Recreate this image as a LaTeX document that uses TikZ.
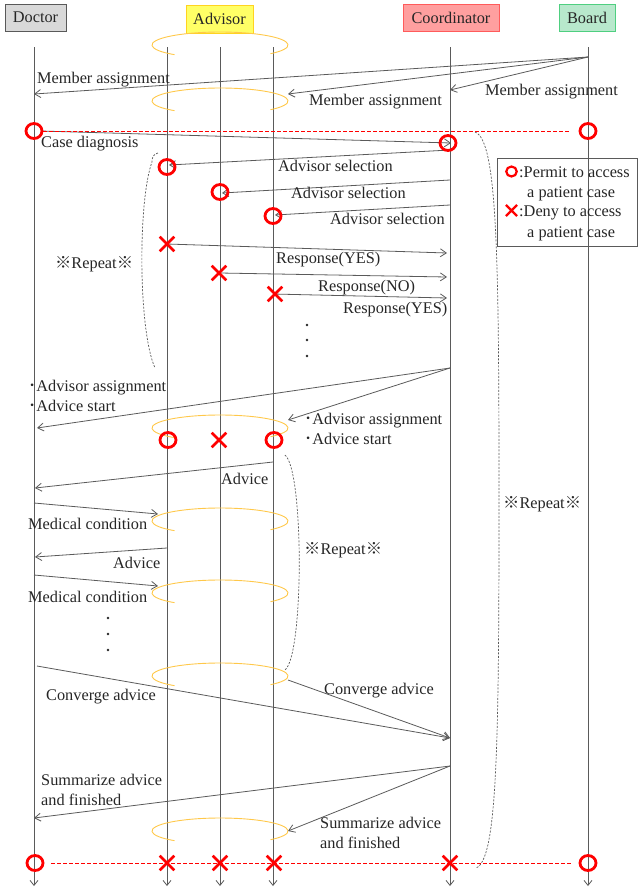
\documentclass[tikz,border=0pt]{standalone}
\usepackage{fontspec}
\setmainfont{Liberation Serif}
\newfontfamily\cjk{Noto Sans CJK JP}
\usetikzlibrary{calc,shapes.geometric,shapes.misc,arrows.meta}

\definecolor{docfill}{HTML}{D9D9D9}
\definecolor{docline}{HTML}{595959}
\definecolor{advfill}{HTML}{FFFF66}
\definecolor{advline}{HTML}{FFD320}
\definecolor{coofill}{HTML}{FF9F9F}
\definecolor{cooline}{HTML}{FF5B5B}
\definecolor{brdfill}{HTML}{B8E8CC}
\definecolor{brdline}{HTML}{4FCF80}
\definecolor{ringcol}{HTML}{FFC84A}
\definecolor{linegray}{HTML}{5A5A5A}
\definecolor{markred}{HTML}{FF0000}

\tikzset{
  head/.style={draw, line width=0.8pt, inner sep=0pt, minimum height=27pt,
    font=\fontsize{16.3}{19}\selectfont, text=black!85},
  lifeline/.style={draw=linegray, line width=0.8pt, -{Straight Barb[length=5pt,width=8pt]}},
  msg/.style={draw=linegray, line width=0.8pt, -{Straight Barb[length=6pt,width=8pt]}},
  lbl/.style={inner sep=0pt, anchor=base west, font=\fontsize{16.3}{20}\selectfont, text=black!85},
  ring/.style={draw=ringcol, line width=0.9pt},
  permit/.style={ellipse, draw=markred, line width=2.8pt, minimum width=16pt, minimum height=15pt, inner sep=0pt},
  deny/.style={cross out, draw=markred, line width=2.6pt, minimum size=12pt, inner sep=0pt},
  accessline/.style={draw=markred, line width=1pt, dash pattern=on 4pt off 2pt},
  repeatbrace/.style={draw=linegray, line width=0.7pt, dash pattern=on 2pt off 1.5pt},
}

\begin{document}
\begin{tikzpicture}[x=1pt,y=-1pt]
    \useasboundingbox (0,0) rectangle (639,887);

    % actors
    \node[head, fill=docfill, draw=docline, minimum width=61pt] (doctor) at (35.5,17.5) {Doctor};
    \node[head, fill=advfill, draw=advline, minimum width=67pt, minimum height=28pt] (advisor) at (219.5,19) {Advisor};
    \node[head, fill=coofill, draw=cooline, minimum width=96pt] (coordinator) at (451,17.5) {Coordinator};
    \node[head, fill=brdfill, draw=brdline, minimum width=56pt] (board) at (587,17.5) {Board};

    \coordinate (doc) at (34,0);
    \coordinate (a1) at (167,0);
    \coordinate (a2) at (220,0);
    \coordinate (a3) at (273,0);
    \coordinate (coo) at (450,0);
    \coordinate (brd) at (588,0);
    \coordinate (ring) at (288,0);

    % lifelines
    \draw[lifeline] ($(doc)+(0,47)$) -- ($(doc)+(0,886)$);
    \draw[lifeline] ($(a1)+(0,47)$) -- ($(a1)+(0,886)$);
    \draw[lifeline] ($(a2)+(0,47)$) -- ($(a2)+(0,886)$);
    \draw[lifeline] ($(a3)+(0,47)$) -- ($(a3)+(0,886)$);
    \draw[lifeline] ($(coo)+(0,47)$) -- ($(coo)+(0,886)$);
    \draw[lifeline] ($(brd)+(0,47)$) -- ($(brd)+(0,886)$);

    % advisor group rings
    \coordinate (r1) at (220,45);
    \coordinate (r2) at (220,101);
    \coordinate (r3) at (220,428);
    \coordinate (r4) at (220,521);
    \coordinate (r5) at (220,593);
    \coordinate (r6) at (220,676);
    \coordinate (r7) at (220,831);
    \draw[ring] (r1) ++(-42:68pt and 13pt) arc[start angle=-42, end angle=228, x radius=68pt, y radius=13pt];
    \draw[ring] (r2) ++(-42:68pt and 13pt) arc[start angle=-42, end angle=228, x radius=68pt, y radius=13pt];
    \draw[ring] (r3) ++(-42:68pt and 13pt) arc[start angle=-42, end angle=228, x radius=68pt, y radius=13pt];
    \draw[ring] (r4) ++(-42:68pt and 13pt) arc[start angle=-42, end angle=228, x radius=68pt, y radius=13pt];
    \draw[ring] (r5) ++(-42:68pt and 13pt) arc[start angle=-42, end angle=228, x radius=68pt, y radius=13pt];
    \draw[ring] (r6) ++(-42:68pt and 13pt) arc[start angle=-42, end angle=228, x radius=68pt, y radius=13pt];
    \draw[ring] (r7) ++(-42:68pt and 13pt) arc[start angle=-42, end angle=228, x radius=68pt, y radius=13pt];

    % messages
    \draw[msg] ($(brd)+(0,57)$) -- ($(doc)+(0,94)$);
    \draw[msg] ($(brd)+(0,57)$) -- ($(ring)+(0,94)$);
    \draw[msg] ($(brd)+(0,57)$) -- ($(coo)+(0,90)$);
    \draw[msg] ($(doc)+(7,131)$) -- ($(coo)+(1,143)$);
    \draw[msg] ($(coo)+(0,150)$) -- ($(a1)+(2,165)$);
    \draw[msg] ($(coo)+(0,180)$) -- ($(a2)+(2,193)$);
    \draw[msg] ($(coo)+(0,205)$) -- ($(a3)+(2,215)$);
    \draw[msg] ($(a1)+(0,244)$) -- ($(coo)+(-3,253)$);
    \draw[msg] ($(a2)+(0,273)$) -- ($(coo)+(-3,277)$);
    \draw[msg] ($(a3)+(0,294)$) -- ($(coo)+(-3,298)$);
    \draw[msg] ($(coo)+(0,368)$) -- ($(doc)+(3,428)$);
    \draw[msg] ($(coo)+(0,368)$) -- ($(ring)+(0,420)$);
    \draw[msg] ($(a3)+(0,462)$) -- ($(doc)+(1,488)$);
    \draw[msg] ($(doc)+(0,503)$) -- ($(a1)+(-9,514)$);
    \draw[msg] ($(a1)+(0,548)$) -- ($(doc)+(1,557)$);
    \draw[msg] ($(doc)+(0,575)$) -- ($(a1)+(-9,586)$);
    \draw[msg] ($(doc)+(3,666)$) -- ($(coo)+(0,738)$);
    \draw[msg] ($(ring)+(0,680)$) -- ($(coo)+(0,738)$);
    \draw[msg] ($(coo)+(0,766)$) -- ($(doc)+(0,818)$);
    \draw[msg] ($(coo)+(0,766)$) -- ($(ring)+(0,831)$);

    % repeat brackets
    \draw[repeatbrace] (158,153) .. controls (153,154) and (152,158) .. (152,162)
        .. controls (138,200) and (138,330) .. (155,368);
    \draw[repeatbrace] (475,132) .. controls (497,140) and (499,250) .. (499,500) .. controls (499,750) and (497,860) .. (476,868);
    \draw[repeatbrace] (285,455) .. controls (304,470) and (304,655) .. (285,670);

    % access marks
    \node[permit] (p-doc1) at (34,131) {};
    \node[permit] (p-brd1) at (588,131) {};
    \node[permit] (p-coo) at (448,143) {};
    \node[permit] (p-a1) at (167,167) {};
    \node[permit] (p-a2) at (220,192) {};
    \node[permit] (p-a3) at (273,216) {};
    \node[deny] (d-a1) at (167,244) {};
    \node[deny] (d-a2) at (219,273) {};
    \node[deny] (d-a3) at (275,294) {};
    \node[permit] (p-a1b) at (168,440) {};
    \node[deny] (d-a2b) at (219,440) {};
    \node[permit] (p-a3b) at (274,440) {};
    \node[permit] (p-doc2) at (35,863) {};
    \node[deny] (d-a1c) at (167,863) {};
    \node[deny] (d-a2c) at (220,863) {};
    \node[deny] (d-a3c) at (274,863) {};
    \node[deny] (d-coo) at (450,863) {};
    \node[permit] (p-brd2) at (588,863) {};
    \draw[accessline] (p-doc1.east) -- ($(p-brd1.west)+(-8,0)$);
    \draw[accessline] ($(p-doc2.east)+(7,0)$) -- ($(p-brd2.west)+(-8,0)$);

    % labels
    \node[lbl] (l-member1) at (37,83) {Member assignment};
    \node[lbl] (l-member2) at (309,105) {Member assignment};
    \node[lbl] (l-member3) at (485,95) {Member assignment};
    \node[lbl] (l-case) at (41,147) {Case diagnosis};
    \node[lbl] (l-sel1) at (278,171) {Advisor selection};
    \node[lbl] (l-sel2) at (291,198) {Advisor selection};
    \node[lbl] (l-sel3) at (330,224) {Advisor selection};
    \node[lbl] (l-res1) at (276,263) {Response(YES)};
    \node[lbl] (l-res2) at (318,291) {Response(NO)};
    \node[lbl] (l-res3) at (343,313) {Response(YES)};
    \fill[black!85] (307,325) circle (1.3pt);
    \fill[black!85] (307,340) circle (1.3pt);
    \fill[black!85] (307,356) circle (1.3pt);
    \node[lbl] (l-rep1) at (55,268) {{\cjk ※}Repeat{\cjk ※}};
    \node[lbl] (l-rep2) at (503,508) {{\cjk ※}Repeat{\cjk ※}};
    \node[lbl] (l-rep3) at (304,554) {{\cjk ※}Repeat{\cjk ※}};
    \node[lbl, anchor=north west, align=left] (l-assign1) at (28,380) {{\cjk ･}Advisor assignment\\{\cjk ･}Advice start};
    \node[lbl, anchor=north west, align=left] (l-assign2) at (304,413) {{\cjk ･}Advisor assignment\\{\cjk ･}Advice start};
    \node[lbl] (l-advice1) at (221,484) {Advice};
    \node[lbl] (l-cond1) at (28,529) {Medical condition};
    \node[lbl] (l-advice2) at (113,568) {Advice};
    \node[lbl] (l-cond2) at (28,602) {Medical condition};
    \fill[black!85] (108,618) circle (1.3pt);
    \fill[black!85] (108,634) circle (1.3pt);
    \fill[black!85] (108,650) circle (1.3pt);
    \node[lbl] (l-conv1) at (46,700) {Converge advice};
    \node[lbl] (l-conv2) at (324,694) {Converge advice};
    \node[lbl, anchor=north west, align=left] (l-sum1) at (41,774) {Summarize advice\\and finished};
    \node[lbl, anchor=north west, align=left] (l-sum2) at (320,817) {Summarize advice\\and finished};

    % legend
    \node[draw=linegray, line width=0.7pt, minimum width=140pt, minimum height=88pt, inner sep=0pt] (legend) at (567,202) {};
    \node[permit, line width=2.2pt, minimum width=10.5pt, minimum height=10pt] (key-permit) at (511.5,171.5) {};
    \node[deny, line width=2.2pt, minimum size=9pt] (key-deny) at (511.5,210.5) {};
    \node[lbl] (key-permit-t1) at (519,177) {:Permit to access};
    \node[lbl] (key-permit-t2) at (527,197) {a patient case};
    \node[lbl] (key-deny-t1) at (519,216) {:Deny to access};
    \node[lbl] (key-deny-t2) at (527,237) {a patient case};
\end{tikzpicture}
\end{document}
